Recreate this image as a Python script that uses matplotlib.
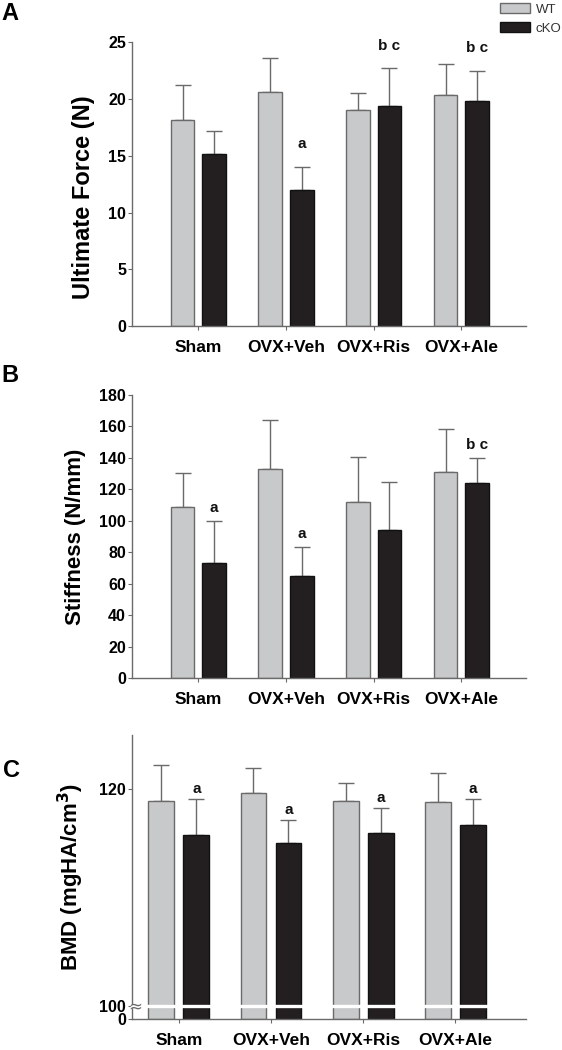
import numpy as np
import matplotlib
matplotlib.use('Agg')
import matplotlib.pyplot as plt
from matplotlib.patches import Patch
import matplotlib.transforms as mtransforms

plt.rcParams['font.family'] = ['Liberation Sans', 'DejaVu Sans']

# data (mean and upper error)
groups = ['Sham', 'OVX+Veh', 'OVX+Ris', 'OVX+Ale']

force_wt = [18.15, 20.62, 19.0, 20.36]
force_wt_sd = [3.09, 3.0, 1.5, 2.76]
force_ko = [15.19, 11.99, 19.42, 19.86]
force_ko_sd = [2.02, 2.05, 3.29, 2.64]
force_marks = ['', 'a', 'b c', 'b c']

stiff_wt = [109.1, 133.2, 112.0, 130.9]
stiff_wt_sd = [21.6, 31.1, 28.8, 27.7]
stiff_ko = [73.1, 65.3, 94.3, 124.3]
stiff_ko_sd = [26.9, 18.2, 30.6, 15.7]
stiff_marks = ['a', 'a', '', 'b c']

bmd_wt = [118.89, 119.66, 118.92, 118.8]
bmd_wt_sd = [3.31, 2.34, 1.64, 2.65]
bmd_ko = [115.75, 115.02, 115.95, 116.7]
bmd_ko_sd = [3.33, 2.18, 2.35, 2.43]
bmd_marks = ['a', 'a', 'a', 'a']

WT_COLOR = '#c8c9cb'
KO_COLOR = '#231f20'
LINE = '#6a6a6a'


def draw_panel(ax, wt, wt_sd, ko, ko_sd, marks, width, off, mark_pad):
    x = np.arange(len(groups))
    ax.bar(x - off, wt, width, color=WT_COLOR, edgecolor=LINE, linewidth=1.0, zorder=2)
    ax.bar(x + off, ko, width, color=KO_COLOR, edgecolor='#111111', linewidth=1.0, zorder=2)
    ax.errorbar(x - off, wt, yerr=[np.zeros(len(wt)), wt_sd], fmt='none',
                ecolor=LINE, elinewidth=1.0, capsize=6, capthick=1.0, zorder=1)
    ax.errorbar(x + off, ko, yerr=[np.zeros(len(ko)), ko_sd], fmt='none',
                ecolor=LINE, elinewidth=1.0, capsize=6, capthick=1.0, zorder=1)
    for i, m in enumerate(marks):
        if m:
            ax.annotate(m, (x[i] + off, ko[i] + ko_sd[i]), xytext=(0, mark_pad),
                        textcoords='offset points', ha='center', va='center',
                        fontsize=11, fontweight='bold', color='#111111')
    ax.set_xticks(x)
    ax.set_xticklabels(groups, fontsize=12.5, fontweight='bold')
    for s in ['top', 'right']:
        ax.spines[s].set_visible(False)
    for s in ['left', 'bottom']:
        ax.spines[s].set_color(LINE)
        ax.spines[s].set_linewidth(1.0)
    ax.tick_params(axis='x', length=3, color=LINE, pad=7)
    ax.tick_params(axis='y', length=3, color=LINE, pad=1.5, labelsize=11.5)
    for t in ax.get_yticklabels():
        t.set_fontweight('bold')


fig = plt.figure(figsize=(5.62, 10.5), dpi=100)

# A: ultimate force
ax1 = fig.add_axes([0.2354, 0.6895, 0.7005, 0.2702])
ax1.set_ylim(0, 25)
ax1.set_yticks([0, 5, 10, 15, 20, 25])
draw_panel(ax1, force_wt, force_wt_sd, force_ko, force_ko_sd, force_marks, 0.27, 0.18, 16)
ax1.set_xlim(-0.753, 3.738)

# B: stiffness
ax2 = fig.add_axes([0.2354, 0.354, 0.7005, 0.2698])
ax2.set_ylim(0, 180)
ax2.set_yticks(np.arange(0, 181, 20))
draw_panel(ax2, stiff_wt, stiff_wt_sd, stiff_ko, stiff_ko_sd, stiff_marks, 0.27, 0.18, 9)
ax2.set_xlim(-0.753, 3.738)

# C: BMD with broken axis (0-100 squeezed)
def fwd(y):
    y = np.asarray(y, dtype=float)
    return np.where(y <= 100, y * 0.0123, y - 100 + 1.23)


def inv(v):
    v = np.asarray(v, dtype=float)
    return np.where(v <= 1.23, v / 0.0123, v + 100 - 1.23)


ax3 = fig.add_axes([0.2354, 0.0292, 0.7005, 0.2708])
ax3.set_yscale('function', functions=(fwd, inv))
ax3.set_ylim(0, 125)
ax3.set_yticks([0, 100, 120])
ax3.set_yticklabels(['0', '100', '120'])
draw_panel(ax3, bmd_wt, bmd_wt_sd, bmd_ko, bmd_ko_sd, bmd_marks, 0.28, 0.19, 7)
ax3.set_xlim(-0.504, 3.766)
ax3.axhline(100, color='white', linewidth=2.4, zorder=5, clip_on=False)
trans = mtransforms.blended_transform_factory(ax3.transAxes, ax3.transData)
ax3.text(0.008, 100, '≈', transform=trans, ha='center', va='center',
         fontsize=12, color=LINE, zorder=6, family='DejaVu Sans')

# axis titles
fig.text(0.1486, 0.8119, 'Ultimate Force (N)', rotation=90, ha='center', va='center',
         fontsize=17, fontweight='bold')
fig.text(0.1352, 0.4886, 'Stiffness (N/mm)', rotation=90, ha='center', va='center',
         fontsize=16, fontweight='bold')
fig.text(0.1263, 0.1651, 'BMD (mgHA/cm$^\\mathbf{3}$)', rotation=90, ha='center', va='center',
         fontsize=16, fontweight='bold')

# panel letters
fig.text(0.002, 0.981, 'A', fontsize=17, fontweight='bold', va='baseline')
fig.text(0.002, 0.6365, 'B', fontsize=17, fontweight='bold', va='baseline')
fig.text(0.006, 0.2603, 'C', fontsize=17, fontweight='bold', va='baseline')

handles = [Patch(facecolor=WT_COLOR, edgecolor=LINE), Patch(facecolor=KO_COLOR, edgecolor='#111111')]
fig.legend(handles, ['WT', 'cKO'], loc='upper left', bbox_to_anchor=(0.889, 0.997),
           frameon=False, fontsize=9.5, handlelength=2.3, handleheight=0.8,
           handletextpad=0.45, labelspacing=0.5, borderpad=0, borderaxespad=0,
           labelcolor='#333333')

fig.savefig('out.png', dpi=100)
